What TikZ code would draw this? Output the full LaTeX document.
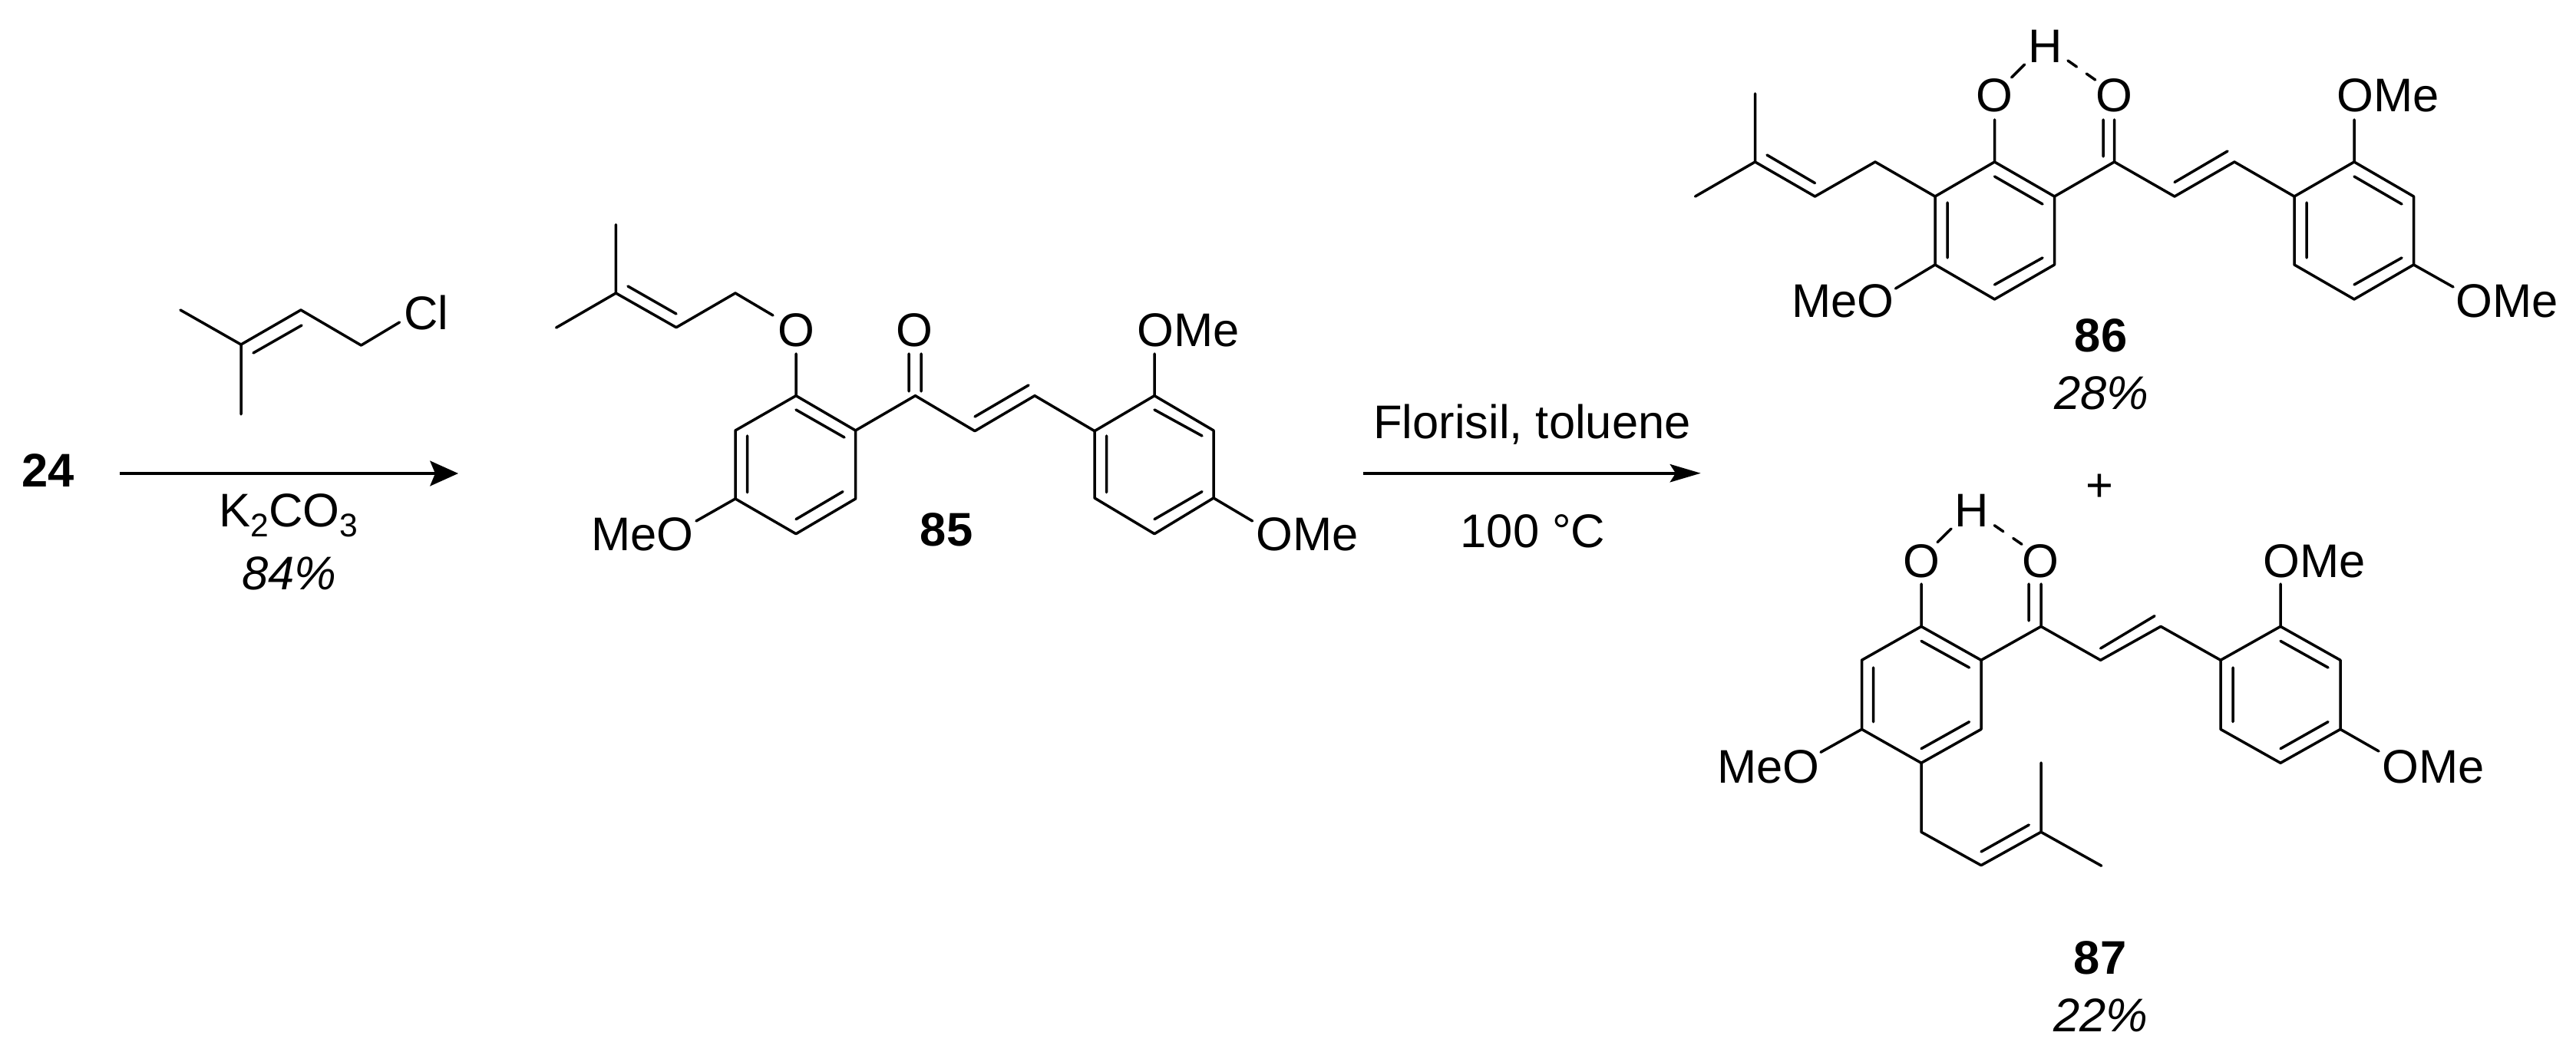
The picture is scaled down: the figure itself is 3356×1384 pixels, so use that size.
\documentclass[tikz,border=0pt]{standalone}
\usepackage{fontspec}
\setmainfont{Liberation Sans}
\usetikzlibrary{arrows.meta}
\tikzset{
  bond/.style={line width=1.05pt,line cap=round,line join=round},
  hbond/.style={bond,dash pattern=on 4.2pt off 4.7pt},
  lab/.style={font=\fontsize{18.45}{20}\selectfont,inner sep=0pt,anchor=base},
  labw/.style={lab,anchor=base west},
  labe/.style={lab,anchor=base east},
  cpd/.style={lab,font=\fontsize{18.45}{20}\bfseries\selectfont},
  yield/.style={lab,font=\fontsize{18.45}{20}\itshape\selectfont},
  rxna/.style={line width=1.2pt,-{Stealth[length=11pt,width=9.8pt,inset=2pt]}},
  rxnb/.style={line width=1.2pt,-{Stealth[length=12pt,width=7pt,inset=2.2pt]}},
}
\newcommand{\subsc}[1]{\raisebox{-3.9pt}{\fontsize{12.8}{14}\selectfont #1}}
\begin{document}
\begin{tikzpicture}[x=0.3pt,y=-0.3pt]
\useasboundingbox (0,0) rectangle (3356,1384);
% ---------- prenyl chloride
\foreach \n/\x/\y in {a1/235/404,a2/314/449,a3/314/540,a4/392/404,a5/470.5/450,a6/520.5/420,ai1/330/460,ai2/393/424}
  \coordinate (\n) at (\x,\y);
\draw[bond] (a1)--(a2)--(a3) (a2)--(a4)--(a5)--(a6) (ai1)--(ai2);
\node[lab] (cl) at (555.5,430) {Cl};
% ---------- reagents, first arrow
\node[cpd] (c24) at (63,635) {24};
\coordinate (r1s) at (156,617);
\coordinate (r1e) at (597,617);
\draw[rxna] (r1s)--(r1e);
\node[lab] (k2co3) at (376,687) {K\subsc{2}CO\subsc{3}};
\node[yield] (y84) at (377,769) {84\%};
% ---------- compound 85
\foreach \n/\x/\y in {
  b1/802.4/292.7,b2/802.4/382,b3/724.6/427,b4/881/426.7,b5/958/382,b6/1007/411,bi1/818/373,bi2/881/409,
  bo/1037/461,
  c2/1037/515.7,c1/1114.6/561,c6/1114.6/650,c5/1037/695.7,c4/958/650,c3/958/561,
  ci1/1037/534,ci2/1100/570,ci3/973.6/568,ci4/973.6/641.7,ci5/1098/640.7,ci6/1037/676.7,
  cm/907/679,
  k/1192.5/515.7,ko1/1184/461,ko2/1184/510,ko3/1200/461,ko4/1200/510,
  va/1270/561.7,vb/1348/515.7,vi1/1270/543,vi2/1340/502,
  d1/1426/561.7,d2/1504/515.7,d3/1581/561,d4/1581/649,d5/1504/695.7,d6/1426/649,
  di1/1504/534,di2/1566/568,di3/1441.5/568,di4/1441.5/641.7,di5/1566/640.7,di6/1504/676.7,
  dt/1504/461,dm/1631.6/679}
  \coordinate (\n) at (\x,\y);
\draw[bond] (b1)--(b2)--(b3) (b2)--(b4)--(b5)--(b6) (bi1)--(bi2);
\draw[bond] (c2)--(c1)--(c6)--(c5)--(c4)--(c3)--cycle (bo)--(c2) (ci1)--(ci2) (ci3)--(ci4) (ci5)--(ci6) (c4)--(cm);
\draw[bond] (c1)--(k)--(va)--(vb)--(d1) (ko1)--(ko2) (ko3)--(ko4) (vi1)--(vi2);
\draw[bond] (d1)--(d2)--(d3)--(d4)--(d5)--(d6)--cycle (di1)--(di2) (di3)--(di4) (di5)--(di6) (d2)--(dt) (d4)--(dm);
\node[lab] (o85a) at (1037,452) {O};
\node[lab] (o85b) at (1191.5,452) {O};
\node[labw] (ome85a) at (1481,452) {OMe};
\node[labw] (ome85b) at (1636,718) {OMe};
\node[labe] (meo85) at (904,718) {MeO};
\node[cpd] (c85) at (1233,712) {85};
% ---------- second arrow
\node[lab] (cond1) at (1996,571.7) {Florisil, toluene};
\coordinate (r2s) at (1776,616.7);
\coordinate (r2e) at (2215.7,616.7);
\draw[rxnb] (r2s)--(r2e);
\node[lab] (cond2) at (1997,714) {100 °C};
% ---------- compound 86
\foreach \n/\x/\y in {
  e1/2286.5/122,e2/2286.5/211,e3/2208.5/256,e4/2364.5/256,e5/2443/211,ei1/2302/202,ei2/2364.5/238.6,
  f2/2598.5/211,f1/2676.5/256,f6/2676.5/345,f5/2598.5/390,f4/2521/345,f3/2521/256,
  fi1/2598.5/230,fi2/2661/266,fi3/2537/264,fi4/2537/336,fi5/2661/336,fi6/2598.5/371,
  fo/2598.5/156,fm/2469.5/376,
  ho1/2620.7/101,ho2/2637.7/84,hk1/2694/79,hk2/2730/104.3,
  g/2754.5/211,go1/2740/156,go2/2740/204,go3/2754.5/156,
  ga/2833/256,gb/2911/211,gi1/2833/237.5,gi2/2902/197,
  m1/2989/256,m2/3067/211,m3/3144.5/256,m4/3144.5/345,m5/3067/390,m6/2989/345,
  mi1/3067/230,mi2/3129/266,mi3/3005/264,mi4/3005/336,mi5/3129/336,mi6/3067/371,
  mt/3067/156,mb/3196/374}
  \coordinate (\n) at (\x,\y);
\draw[bond] (e1)--(e2)--(e3) (e2)--(e4)--(e5)--(f3) (ei1)--(ei2);
\draw[bond] (f3)--(f2)--(f1)--(f6)--(f5)--(f4)--cycle (fi1)--(fi2) (fi3)--(fi4) (fi5)--(fi6) (f2)--(fo) (f4)--(fm);
\draw[bond] (ho1)--(ho2);
\draw[hbond] (hk1)--(hk2);
\draw[bond] (f1)--(g)--(ga)--(gb)--(m1) (go1)--(go2) (go3)--(g) (gi1)--(gi2);
\draw[bond] (m1)--(m2)--(m3)--(m4)--(m5)--(m6)--cycle (mi1)--(mi2) (mi3)--(mi4) (mi5)--(mi6) (m2)--(mt) (m4)--(mb);
\node[lab] (o86a) at (2598.5,146) {O};
\node[lab] (o86b) at (2754.5,146) {O};
\node[lab] (h86) at (2665,81.7) {H};
\node[labw] (ome86a) at (3043.5,146) {OMe};
\node[labw] (ome86b) at (3199,414) {OMe};
\node[labe] (meo86) at (2468,414) {MeO};
\node[cpd] (c86) at (2737,459) {86};
\node[yield] (y28) at (2738,534) {28\%};
% ---------- plus
\node[lab,anchor=center] (plus) at (2735.7,635.3) {+};
% ---------- compound 87
\foreach \n/\x/\y in {
  p2/2503/816.4,p1/2581/860.3,p6/2581/950.4,p5/2503/994.3,p4/2425.5/950.4,p3/2425.5/860.3,
  pi1/2503/835.4,pi2/2565.5/870,pi3/2440.6/870,pi4/2440.6/940.7,pi5/2565.5/940.7,pi6/2503/975.7,
  po/2503/761,pm/2372/980.3,
  qo1/2524/706.7,qo2/2542/689,qk1/2598.3/684.7,qk2/2634/709.3,
  s/2659/816.4,so1/2643/761,so2/2643/809,so3/2659/761,
  sa/2736.6/860.3,sb/2815/816.4,si1/2736.6/845,si2/2807/802.7,
  t1/2893/860.3,t2/2971/816.4,t3/3049/860.3,t4/3049/950.4,t5/2971/994.3,t6/2893/950.4,
  ti1/2971/835.4,ti2/3033/870,ti3/2909/870,ti4/2909/940.7,ti5/3033/940.7,ti6/2971/975.7,
  tt/2971/761,tb/3099/979,
  u1/2503/1084.3,u2/2581/1127.7,u3/2659/1084.3,u4/2659/994,u5/2737.7/1128.3,ui1/2581/1110,ui2/2643.3/1075}
  \coordinate (\n) at (\x,\y);
\draw[bond] (p2)--(p1)--(p6)--(p5)--(p4)--(p3)--cycle (pi1)--(pi2) (pi3)--(pi4) (pi5)--(pi6) (p2)--(po) (p4)--(pm);
\draw[bond] (qo1)--(qo2);
\draw[hbond] (qk1)--(qk2);
\draw[bond] (p1)--(s)--(sa)--(sb)--(t1) (so1)--(so2) (so3)--(s) (si1)--(si2);
\draw[bond] (t1)--(t2)--(t3)--(t4)--(t5)--(t6)--cycle (ti1)--(ti2) (ti3)--(ti4) (ti5)--(ti6) (t2)--(tt) (t4)--(tb);
\draw[bond] (p5)--(u1)--(u2)--(u3)--(u4) (u3)--(u5) (ui1)--(ui2);
\node[lab] (o87a) at (2503,752.7) {O};
\node[lab] (o87b) at (2658.7,752.7) {O};
\node[lab] (h87) at (2568.7,686.7) {H};
\node[labw] (ome87a) at (2948,752.7) {OMe};
\node[labw] (ome87b) at (3103,1020) {OMe};
\node[labe] (meo87) at (2371,1020) {MeO};
\node[cpd] (c87) at (2736,1269) {87};
\node[yield] (y22) at (2737,1344.3) {22\%};
\end{tikzpicture}
\end{document}
